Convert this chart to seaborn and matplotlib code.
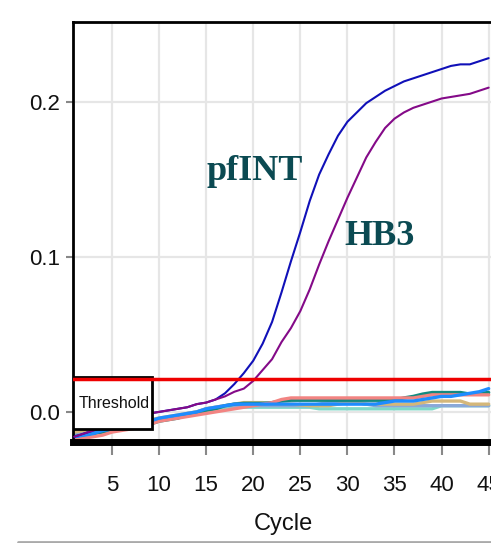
import pandas as pd
import matplotlib.pyplot as plt
import seaborn as sns
from matplotlib.patches import Rectangle
from matplotlib.lines import Line2D

# Amplification curves (cycle 1..45)
cycles = list(range(1, 46))

pfint = [-0.016, -0.014, -0.012, -0.010, -0.008, -0.006, -0.004, -0.003, -0.001, 0.000,
         0.001, 0.002, 0.003, 0.005, 0.006, 0.008, 0.012, 0.018, 0.025, 0.033,
         0.044, 0.058, 0.077, 0.097, 0.116, 0.136, 0.153, 0.166, 0.178, 0.187,
         0.193, 0.199, 0.203, 0.207, 0.210, 0.213, 0.215, 0.217, 0.219, 0.221,
         0.223, 0.224, 0.224, 0.226, 0.228]

hb3 = [-0.016, -0.014, -0.012, -0.010, -0.008, -0.006, -0.004, -0.003, -0.001, 0.000,
       0.001, 0.002, 0.003, 0.005, 0.006, 0.008, 0.010, 0.013, 0.015, 0.020,
       0.027, 0.034, 0.045, 0.054, 0.065, 0.079, 0.095, 0.110, 0.124, 0.138,
       0.151, 0.164, 0.174, 0.183, 0.189, 0.193, 0.196, 0.198, 0.200, 0.202,
       0.203, 0.204, 0.205, 0.207, 0.209]

teal = [-0.016, -0.015, -0.014, -0.013, -0.012, -0.011, -0.010, -0.009, -0.008, -0.006,
        -0.005, -0.004, -0.002, -0.001, 0.001, 0.002, 0.004, 0.005, 0.0055, 0.0055,
        0.0055, 0.006, 0.007, 0.0075, 0.0075, 0.0075, 0.0075, 0.0075, 0.0075, 0.0075,
        0.0075, 0.0075, 0.0075, 0.0075, 0.0075, 0.009, 0.010, 0.0115, 0.0125, 0.0125,
        0.0125, 0.0125, 0.0115, 0.012, 0.0125]

salmon = [-0.018, -0.017, -0.016, -0.015, -0.013, -0.012, -0.011, -0.010, -0.008, -0.006,
          -0.005, -0.004, -0.003, -0.002, -0.001, 0.000, 0.001, 0.002, 0.003, 0.004,
          0.005, 0.006, 0.008, 0.009, 0.009, 0.009, 0.009, 0.009, 0.009, 0.009,
          0.009, 0.009, 0.009, 0.009, 0.009, 0.009, 0.009, 0.010, 0.011, 0.011,
          0.011, 0.011, 0.011, 0.011, 0.011]

dodger = [-0.016, -0.015, -0.014, -0.012, -0.011, -0.010, -0.009, -0.007, -0.006, -0.004,
          -0.003, -0.002, -0.001, 0.000, 0.002, 0.003, 0.004, 0.005, 0.005, 0.005,
          0.005, 0.005, 0.005, 0.005, 0.005, 0.005, 0.005, 0.005, 0.005, 0.005,
          0.005, 0.005, 0.005, 0.006, 0.007, 0.007, 0.007, 0.008, 0.009, 0.010,
          0.010, 0.011, 0.012, 0.013, 0.015]

tan = [-0.013, -0.012, -0.011, -0.010, -0.009, -0.008, -0.007, -0.006, -0.005, -0.004,
       -0.003, -0.002, -0.001, 0.000, 0.002, 0.003, 0.004, 0.005, 0.006, 0.006,
       0.006, 0.005, 0.005, 0.005, 0.0045, 0.004, 0.004, 0.004, 0.005, 0.006,
       0.006, 0.005, 0.005, 0.005, 0.005, 0.005, 0.005, 0.006, 0.007, 0.007,
       0.007, 0.007, 0.005, 0.005, 0.005]

steel = [-0.014, -0.013, -0.012, -0.011, -0.010, -0.009, -0.008, -0.007, -0.006, -0.005,
         -0.004, -0.003, -0.001, 0.000, 0.002, 0.003, 0.004, 0.004, 0.004, 0.004,
         0.004, 0.004, 0.004, 0.004, 0.004, 0.004, 0.005, 0.006, 0.006, 0.006,
         0.006, 0.005, 0.004, 0.004, 0.004, 0.004, 0.004, 0.004, 0.004, 0.004,
         0.004, 0.004, 0.004, 0.004, 0.004]

aqua = [-0.015, -0.014, -0.013, -0.012, -0.011, -0.010, -0.009, -0.008, -0.007, -0.005,
        -0.004, -0.003, -0.002, -0.001, 0.001, 0.002, 0.003, 0.003, 0.003, 0.003,
        0.003, 0.003, 0.003, 0.003, 0.003, 0.003, 0.002, 0.002, 0.002, 0.002,
        0.002, 0.002, 0.002, 0.002, 0.002, 0.002, 0.002, 0.002, 0.002, 0.004,
        0.004, 0.004, 0.004, 0.004, 0.004]

threshold = 0.021
xticks = [5, 10, 15, 20, 25, 30, 35, 40, 45]
yticks = [0.0, 0.1, 0.2]

sns.set_theme(style='white')
plt.rcParams['font.family'] = ['Liberation Sans', 'DejaVu Sans']

fig = plt.figure(figsize=(4.91, 5.43), dpi=100)
ax = fig.add_axes([73 / 491, 1 - 442 / 543, 420 / 491, 420 / 543])

# background wells first, then the two labelled samples on top
background = [(aqua, '#7fd8c8'), (steel, '#8aa8d8'), (tan, '#d4b77a'),
              (teal, '#138a80'), (salmon, '#f28482'), (dodger, '#1e8cff')]
for vals, col in background:
    sns.lineplot(x=cycles, y=vals, color=col, lw=2.4, ax=ax, zorder=2)

sns.lineplot(x=cycles, y=pfint, color='#1010b8', lw=1.5, ax=ax, zorder=3)
sns.lineplot(x=cycles, y=hb3, color='#840a88', lw=1.5, ax=ax, zorder=3)

# threshold label box and line
ax.add_patch(Rectangle((0.86, -0.0112), 8.35, 0.0336, facecolor='white',
                       edgecolor='black', lw=2, zorder=4))
ax.text(1.45, 0.0052, 'Threshold', fontsize=11.5, va='center', ha='left',
        color='#111111', zorder=5)
ax.axhline(threshold, color='#ee0000', lw=2.5, zorder=6)

ax.text(20.2, 0.155, 'pfINT', fontsize=26, fontweight='bold',
        family=['Liberation Serif', 'DejaVu Serif'], color='#0b4a52',
        ha='center', va='center')
ax.text(33.4, 0.113, 'HB3', fontsize=26, fontweight='bold',
        family=['Liberation Serif', 'DejaVu Serif'], color='#0b4a52',
        ha='center', va='center')

ax.set_xlim(0.86, 45.46)
ax.set_ylim(-0.0194, 0.2513)
ax.set_xticks(xticks)
ax.set_yticks(yticks)
ax.set_xticklabels([str(t) for t in xticks])
ax.set_yticklabels(['0.0', '0.1', '0.2'])
ax.grid(True, color='#e6e6e6', lw=1.6)
ax.set_axisbelow(True)
ax.tick_params(axis='x', direction='out', length=9, width=1.5, color='#888888',
               pad=15, labelsize=16, labelcolor='#111111', bottom=True)
ax.tick_params(axis='y', direction='out', length=5, width=1.5, color='#888888',
               pad=4, labelsize=16, labelcolor='#111111', left=True)
ax.set_xlabel('Cycle', fontsize=17, color='#111111', labelpad=12)
ax.set_ylabel('')

for side in ['left', 'top']:
    ax.spines[side].set_color('black')
    ax.spines[side].set_linewidth(2)
ax.spines['bottom'].set_color('black')
ax.spines['bottom'].set_linewidth(5)
ax.spines['right'].set_visible(False)

# grey rule across the bottom of the figure
fig.add_artist(Line2D([18 / 491, 1], [1.5 / 543, 1.5 / 543], color='#aaaaaa', lw=2))

fig.savefig('out.png', dpi=100)
